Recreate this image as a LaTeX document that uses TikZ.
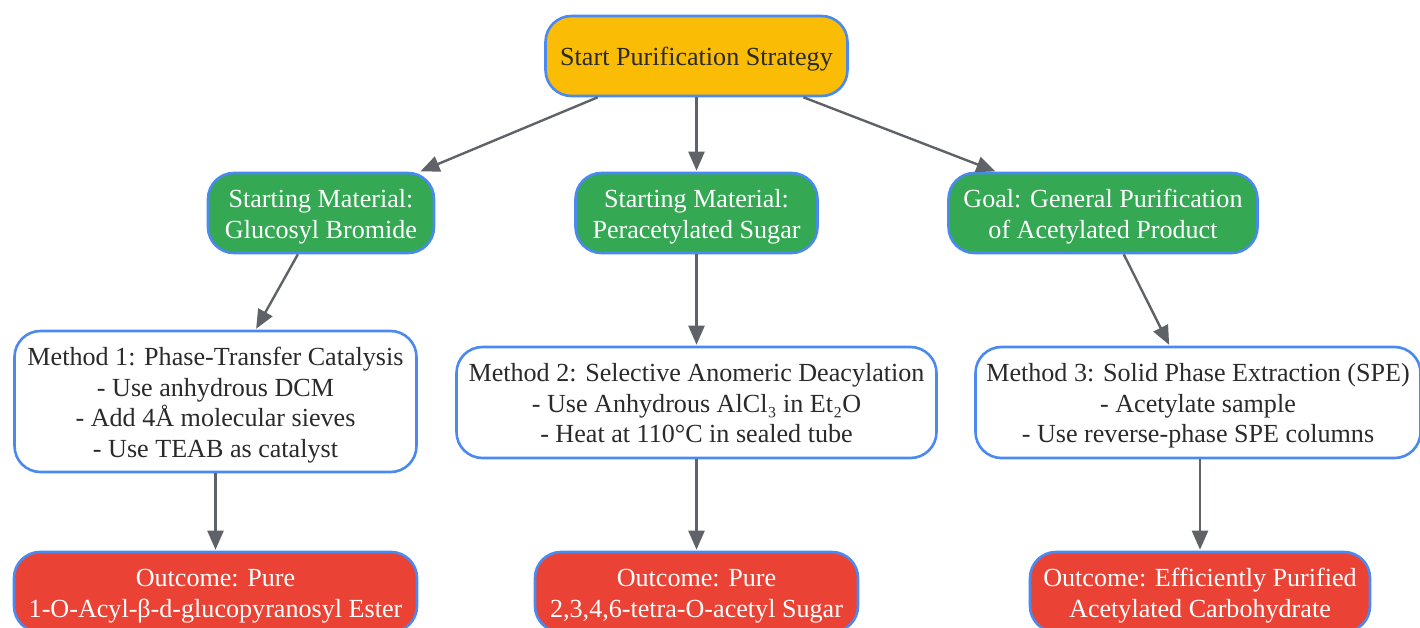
\documentclass[tikz,border=0pt]{standalone}
\usepackage{fontspec}
\setmainfont{Liberation Serif}
\usetikzlibrary{arrows.meta}
\definecolor{bordblue}{HTML}{4A89F0}
\definecolor{startfill}{HTML}{FBBC05}
\definecolor{greenfill}{HTML}{34A853}
\definecolor{redfill}{HTML}{EA4335}
\definecolor{edgegray}{HTML}{5F6368}
\definecolor{textdark}{HTML}{2A2A2A}
\newcommand\boxlines[1]{\raisebox{-3.7bp}[\height][\depth]{\begin{tabular}{@{}c@{}}#1\end{tabular}}}
\begin{document}
\begin{tikzpicture}[x=1bp,y=-1bp,
  box/.style={draw=bordblue, line width=2.6bp, rounded corners=26bp,
    inner sep=0pt, font=\fontsize{26.2}{30.7}\selectfont},
  startbox/.style={box, fill=startfill, text=textdark},
  greenbox/.style={box, fill=greenfill, text=white},
  whitebox/.style={box, fill=white, text=textdark},
  redbox/.style={box, fill=redfill, text=white},
  edge/.style={draw=edgegray, line width=2.4bp, shorten >=1bp, -{Triangle[length=19bp,width=16bp]}}]
\useasboundingbox (0,0) rectangle (1420,628);
\begin{scope}
\clip (0,0) rectangle (1420,628);
\node[startbox, minimum width=302bp, minimum height=80bp] (start) at (696.5,56) {\boxlines{Start Purification Strategy}};
\node[greenbox, minimum width=226bp, minimum height=80bp] (gb) at (321,213) {\boxlines{Starting Material:\\Glucosyl Bromide}};
\node[greenbox, minimum width=242bp, minimum height=80bp] (ps) at (696.5,213) {\boxlines{Starting Material:\\Peracetylated Sugar}};
\node[greenbox, minimum width=309bp, minimum height=80bp] (goal) at (1103,213) {\boxlines{Goal: General Purification\\of Acetylated Product}};
\node[whitebox, minimum width=402bp, minimum height=141bp] (m1) at (215.5,401.5) {\boxlines{Method 1: Phase-Transfer Catalysis\\- Use anhydrous DCM\\- Add 4Å molecular sieves\\- Use TEAB as catalyst}};
\node[whitebox, minimum width=480bp, minimum height=111bp] (m2) at (696.5,402.5) {\boxlines{Method 2: Selective Anomeric Deacylation\\- Use Anhydrous AlCl₃ in Et₂O\\- Heat at 110°C in sealed tube}};
\node[whitebox, minimum width=445bp, minimum height=111bp] (m3) at (1198,402.5) {\boxlines{Method 3: Solid Phase Extraction (SPE)\\- Acetylate sample\\- Use reverse-phase SPE columns}};
\node[redbox, minimum width=403bp, minimum height=80bp] (o1) at (215.5,592) {\boxlines{Outcome: Pure\\1-O-Acyl-β-d-glucopyranosyl Ester}};
\node[redbox, minimum width=323bp, minimum height=80bp] (o2) at (696.5,592) {\boxlines{Outcome: Pure\\2,3,4,6-tetra-O-acetyl Sugar}};
\node[redbox, minimum width=340bp, minimum height=80bp] (o3) at (1200,592) {\boxlines{Outcome: Efficiently Purified\\Acetylated Carbohydrate}};
\draw[edge] (start) -- (gb);
\draw[edge] (start) -- (ps);
\draw[edge] (start) -- (goal);
\draw[edge] (gb) -- (m1);
\draw[edge] (ps) -- (m2);
\draw[edge] (goal) -- (m3);
\draw[edge] (m1) -- (o1);
\draw[edge] (m2) -- (o2);
\draw[edge] (m3.south -| o3.north) -- (o3.north);
\end{scope}
\end{tikzpicture}
\end{document}
